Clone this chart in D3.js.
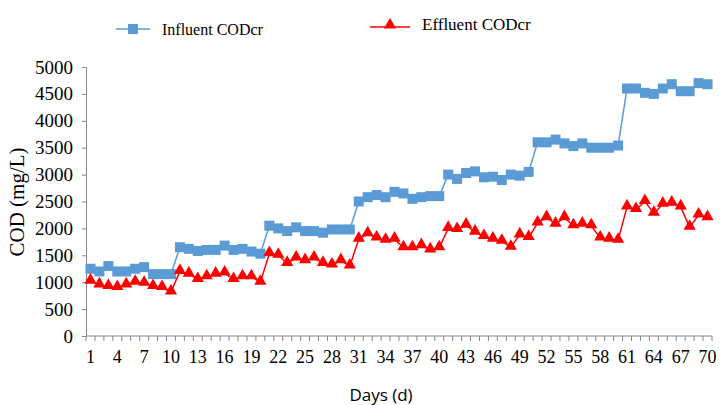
<!DOCTYPE html>
<html><head><meta charset="utf-8">
<script src="https://cdn.jsdelivr.net/npm/d3@7"></script>
<style>body{margin:0;background:#fff}svg{display:block}
.serif{font-family:"Liberation Serif","Times New Roman",serif}</style>
</head><body>
<script>
const days = d3.range(1, 71);
const influent = [1250,1200,1300,1200,1200,1250,1280,1150,1150,1150,
  1650,1620,1580,1600,1600,1680,1600,1620,1570,1530,
  2050,2000,1950,2020,1950,1950,1920,1980,1980,1980,
  2500,2580,2620,2580,2680,2650,2550,2580,2600,2600,
  3000,2920,3030,3060,2950,2960,2900,3000,2980,3050,
  3600,3600,3650,3580,3530,3580,3500,3500,3500,3540,
  4600,4600,4520,4500,4600,4680,4550,4550,4700,4680];
const effluent = [1020,950,920,900,950,1000,980,920,900,820,
  1200,1150,1050,1100,1150,1170,1050,1100,1100,1000,
  1530,1500,1350,1450,1400,1450,1350,1320,1400,1300,
  1800,1900,1820,1780,1800,1640,1640,1680,1600,1640,
  2000,1980,2060,1930,1850,1800,1760,1650,1880,1830,
  2100,2200,2080,2200,2050,2080,2050,1820,1800,1780,
  2400,2350,2500,2280,2450,2470,2400,2020,2250,2200];
const yTicks = [0,500,1000,1500,2000,2500,3000,3500,4000,4500,5000];
const xTickLabels = d3.range(1, 71, 3);
const seriesNames = ["Influent CODcr", "Effluent CODcr"];

(function(){
const W = 722, H = 405;
const svg = d3.select("body").append("svg").attr("width", W).attr("height", H);
const mLeft = 86, mRight = 712, mTop = 67, mBottom = 336;
const x = d3.scaleBand().domain(days).range([mLeft, mRight]);
const y = d3.scaleLinear().domain([0, 5000]).range([mBottom, mTop]);
const axisColor = "#868686";

// Y axis
const ya = svg.append("g").attr("transform", `translate(${mLeft},0)`)
  .call(d3.axisLeft(y).tickValues(yTicks).tickFormat(d3.format("d")).tickSize(4).tickPadding(9));
ya.attr("font-family", null).attr("font-size", null);
ya.select(".domain").attr("stroke", axisColor);
ya.selectAll(".tick line").attr("stroke", axisColor);
ya.selectAll("text").attr("class","serif").style("font-size","19px").attr("fill", "#000");

// X axis
const xa = svg.append("g").attr("transform", `translate(0,${mBottom})`);
xa.append("line").attr("x1", mLeft).attr("x2", mRight).attr("stroke", axisColor);
xa.selectAll("line.t").data(d3.range(0, 71)).enter().append("line")
  .attr("class","t")
  .attr("x1", i => mLeft + i * x.step()).attr("x2", i => mLeft + i * x.step())
  .attr("y1", 0).attr("y2", 5).attr("stroke", axisColor);
xa.selectAll("text").data(xTickLabels).enter().append("text")
  .attr("class","serif")
  .attr("x", d => x(d) + x.bandwidth()/2).attr("y", 27)
  .attr("text-anchor","middle").style("font-size","18px")
  .text(d => d);

// Titles
svg.append("text").attr("class","serif").attr("transform","translate(24,202) rotate(-90)")
  .attr("text-anchor","middle").style("font-size","21px").text("COD (mg/L)");
svg.append("text").attr("x", 381).attr("y", 401).attr("text-anchor","middle")
  .style("font-family","'Open Sans',sans-serif").style("font-size","17px").text("Days (d)");

const cx = d => x(d) + x.bandwidth()/2;
const line = vals => d3.line().x((v,i) => cx(days[i])).y(v => y(v))(vals);

const blue = "#5B9BD5", red = "#FF0000";
svg.append("path").attr("d", line(influent)).attr("fill","none").attr("stroke", blue).attr("stroke-width",1.5);
svg.selectAll("rect.m").data(influent).enter().append("rect").attr("class","m")
  .attr("x",(v,i)=>cx(days[i])-5).attr("y",v=>y(v)-5).attr("width",10).attr("height",10).attr("fill",blue);

svg.append("path").attr("d", line(effluent)).attr("fill","none").attr("stroke", red).attr("stroke-width",1.5);
const tri = d3.symbol().type(d3.symbolTriangle).size(65);
svg.selectAll("path.tr").data(effluent).enter().append("path").attr("class","tr")
  .attr("d", tri).attr("transform",(v,i)=>`translate(${cx(days[i])},${y(v)-1})`).attr("fill",red);

// Legend
const lg1 = svg.append("g");
lg1.append("line").attr("x1",116).attr("x2",150).attr("y1",29).attr("y2",29).attr("stroke",blue).attr("stroke-width",1.5);
lg1.append("rect").attr("x",128).attr("y",24).attr("width",10).attr("height",10).attr("fill",blue);
lg1.append("text").attr("class","serif").attr("x",162).attr("y",35).style("font-size","16px").text(seriesNames[0]);
const lg2 = svg.append("g");
lg2.append("line").attr("x1",370).attr("x2",410).attr("y1",27).attr("y2",27).attr("stroke",red).attr("stroke-width",1.5);
lg2.append("path").attr("d",tri).attr("transform","translate(390,25)").attr("fill",red);
lg2.append("text").attr("class","serif").attr("x",422).attr("y",30).style("font-size","17px").text(seriesNames[1]);
})();
</script>
</body></html>
